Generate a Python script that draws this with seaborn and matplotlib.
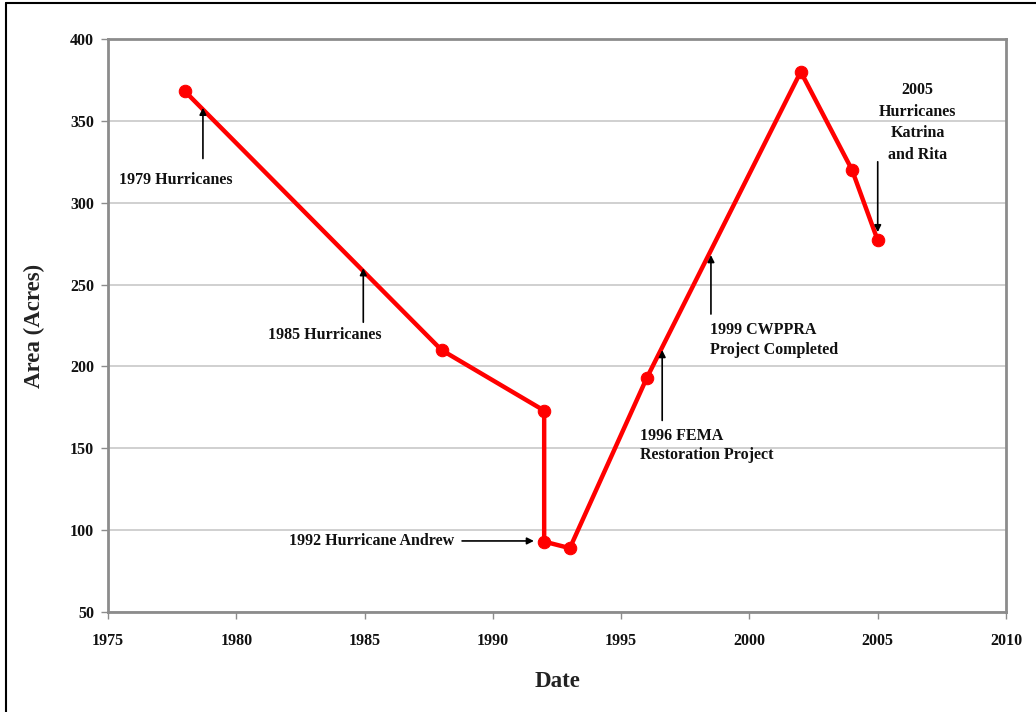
import matplotlib
matplotlib.use("Agg")
import matplotlib.pyplot as plt
from matplotlib.lines import Line2D
import seaborn as sns
import pandas as pd

# Data
years = [1978, 1988, 1992, 1992, 1993, 1996, 2002, 2004, 2005]
area = [368, 210, 173, 93, 89, 193, 380, 320, 277]
x_ticks = [1975, 1980, 1985, 1990, 1995, 2000, 2005, 2010]
y_ticks = [50, 100, 150, 200, 250, 300, 350, 400]

sns.set_theme(style="white")
plt.rcParams['font.family'] = ['Liberation Serif', 'DejaVu Serif']

fig = plt.figure(figsize=(10.36, 7.12), dpi=100)
ax = fig.add_axes([108/1036, 1-612/712, (1006-108)/1036, (612-39)/712])

df = pd.DataFrame({"Date": years, "Area": area})
sns.lineplot(data=df, x="Date", y="Area", sort=False, estimator=None, ax=ax,
             color="#ff0000", linewidth=3.2, marker="o", markersize=9,
             markeredgecolor="#ff0000", zorder=3)

ax.set_xlim(1975, 2010)
ax.set_ylim(50, 400)
ax.set_xticks(x_ticks)
ax.set_yticks(y_ticks)
ax.set_xticklabels([str(t) for t in x_ticks], fontsize=11.5, fontweight="bold")
ax.set_yticklabels([str(t) for t in y_ticks], fontsize=11.5, fontweight="bold")
ax.yaxis.grid(True, color="#c8c8c8", linewidth=1.2)
ax.xaxis.grid(False)
for s in ax.spines.values():
    s.set_color("#8c8c8c")
    s.set_linewidth(2)
ax.tick_params(axis="both", which="major", direction="out", length=5,
               color="#8c8c8c", width=1, bottom=True, left=True, labelcolor="#111111")
ax.tick_params(axis="x", pad=10)
ax.tick_params(axis="y", pad=5)
ax.set_xlabel("Date", fontsize=16.5, fontweight="bold", labelpad=16, color="#222222")
ax.set_ylabel("Area (Acres)", fontsize=16.5, fontweight="bold", labelpad=18, color="#222222")

ann = dict(fontsize=11.5, fontweight="bold", color="#111111")
arrow = dict(arrowstyle="-|>", color="black", lw=1.2, mutation_scale=10, shrinkA=0, shrinkB=0)

ax.annotate("", xy=(1978.7, 358), xytext=(1978.7, 327), arrowprops=arrow)
ax.text(1977.65, 314, "1979 Hurricanes", ha="center", va="center", **ann)

ax.annotate("", xy=(1984.95, 260), xytext=(1984.95, 227), arrowprops=arrow)
ax.text(1983.45, 219, "1985 Hurricanes", ha="center", va="center", **ann)

ax.annotate("", xy=(1991.6, 93.4), xytext=(1988.8, 93.4), arrowprops=arrow)
ax.text(1988.5, 93.4, "1992 Hurricane Andrew", ha="right", va="center", **ann)

ax.annotate("", xy=(1996.6, 210), xytext=(1996.6, 167), arrowprops=arrow)
ax.text(1995.73, 152, "1996 FEMA\nRestoration Project", ha="left", va="center",
        linespacing=1.25, **ann)

ax.annotate("", xy=(1998.5, 268), xytext=(1998.5, 232), arrowprops=arrow)
ax.text(1998.45, 216, "1999 CWPPRA\nProject Completed", ha="left", va="center",
        linespacing=1.35, **ann)

ax.annotate("", xy=(2005.0, 282), xytext=(2005.0, 325), arrowprops=arrow)
ax.text(2006.55, 349, "2005\nHurricanes\nKatrina\nand Rita", ha="center", va="center",
        linespacing=1.45, **ann)

# outer frame (left and top edges)
fig.add_artist(Line2D([6/1036, 6/1036], [0, 1-3/712], transform=fig.transFigure,
                      color="black", linewidth=1.5))
fig.add_artist(Line2D([6/1036, 1], [1-3/712, 1-3/712], transform=fig.transFigure,
                      color="black", linewidth=1.5))

fig.savefig("out.png", dpi=100)
